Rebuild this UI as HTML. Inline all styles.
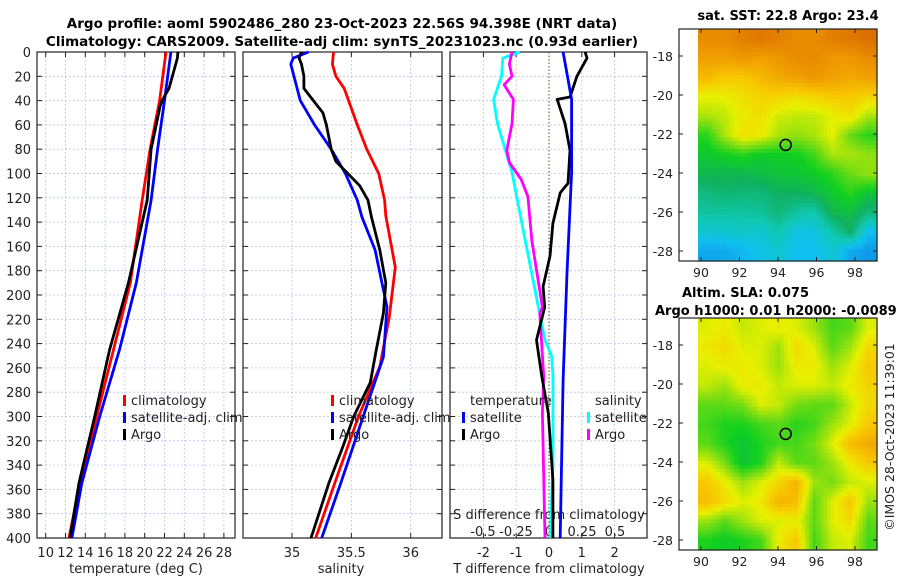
<!DOCTYPE html>
<html><head><meta charset="utf-8">
<style>
body{margin:0;background:#fff;}
svg text{font-family:"DejaVu Sans","Liberation Sans",sans-serif;fill:#222;}
.b{font-weight:bold;fill:#000;}
</style></head>
<body>
<svg id="fig" width="900" height="580" viewBox="0 0 900 580" xmlns="http://www.w3.org/2000/svg">
<text class="b" x="342" y="28" font-size="13.5" text-anchor="middle">Argo profile: aoml 5902486_280 23-Oct-2023 22.56S 94.398E (NRT data)</text>
<text class="b" x="342" y="46" font-size="13.5" text-anchor="middle">Climatology: CARS2009. Satellite-adj clim: synTS_20231023.nc (0.93d earlier)</text>
<text class="b" x="788" y="20" font-size="13" text-anchor="middle">sat. SST: 22.8 Argo: 23.4</text>
<text class="b" x="682" y="297" font-size="13">Altim. SLA: 0.075</text>
<text class="b" x="655" y="315" font-size="13">Argo h1000: 0.01 h2000: -0.0089</text>
<text x="0" y="0" font-size="12.5" text-anchor="middle" transform="translate(894,437) rotate(-90)">©IMOS 28-Oct-2023 11:39:01</text>
<g id="g"></g>
</svg>
<script>
// Temperature panel data
const climDepth=[0,40,80,122,190,245,300,355,400];
const climT=[22.15,21.5,20.55,19.75,18.55,16.85,15.15,13.45,12.35];
const satT=[22.65,22.0,21.3,20.65,19.15,17.45,15.45,13.65,12.65];
const argoTDepth=[0,5,30,40,45,80,122,190,245,300,355,400];
const argoT=[23.35,23.3,22.45,21.75,21.55,20.65,20.25,18.35,16.45,14.95,13.35,12.45];
const tTicks=[10,12,14,16,18,20,22,24,26,28];
// Salinity panel data
const climSDepth=[0,10,20,30,60,80,100,122,135,177,218,259,300,355,400];
const climS=[35.35,35.34,35.37,35.44,35.55,35.63,35.73,35.78,35.79,35.87,35.82,35.74,35.56,35.36,35.2];
const satSDepth=[0,5,10,40,60,80,100,122,136,163,210,251,300,355,400];
const satS=[35.14,35.01,34.99,35.07,35.19,35.33,35.45,35.55,35.59,35.7,35.8,35.77,35.6,35.41,35.25];
const argoSDepth=[0,5,10,20,30,40,50,60,80,90,100,110,122,136,163,190,215,245,272,300,327,355,400];
const argoS=[35.08,35.06,35.08,35.1,35.1,35.18,35.26,35.29,35.33,35.37,35.47,35.57,35.64,35.67,35.74,35.79,35.77,35.71,35.66,35.52,35.42,35.31,35.16];
const sTicks=[35,35.5,36];
// Difference panel data
const argoDTDepth=[0,5,20,37,39,59,81,108,116,141,168,193,210,237,267,297,352,400];
const argoDT=[1.1,1.16,0.85,0.64,0.25,0.49,0.64,0.58,0.34,0.12,0.03,-0.18,-0.13,-0.38,-0.22,-0.02,0.12,0.12];
const satDTDepth=[0,39,99,182,270,400];
const satDT=[0.43,0.69,0.69,0.55,0.43,0.34];
const satDSDepth=[0,5,20,39,59,99,155,210,237,250,267,338,400];
const satDS=[-0.22,-0.35,-0.36,-0.42,-0.39,-0.28,-0.18,-0.08,-0.03,0.02,0.03,0.03,0.01];
const argoDSDepth=[0,10,20,27,39,59,81,91,105,119,155,210,215,267,297,400];
const argoDS=[-0.28,-0.3,-0.28,-0.34,-0.27,-0.28,-0.32,-0.3,-0.21,-0.16,-0.13,-0.05,-0.07,-0.04,-0.05,-0.03];
const dTTicks=[-2,-1,0,1,2];
const dSTicks=[-0.5,-0.25,0,0.25,0.5];
const dSTickLabels=["-0.5","-0.25","0","0.25","0.5"];
const depthTicks=[0,20,40,60,80,100,120,140,160,180,200,220,240,260,280,300,320,340,360,380,400];
// Map data (colour level 0..1), rows north->south, cols west->east
const sstGrid=[
[.85,.85,.88,.9,.88,.85,.85,.88,.9,.92],
[.8,.8,.82,.8,.82,.85,.85,.82,.82,.85],
[.75,.72,.72,.75,.78,.8,.82,.8,.78,.8],
[.65,.65,.68,.7,.7,.68,.7,.72,.72,.7],
[.6,.62,.66,.68,.63,.62,.62,.65,.68,.6],
[.5,.6,.68,.66,.6,.58,.6,.65,.55,.5],
[.46,.48,.5,.47,.47,.48,.52,.6,.6,.58],
[.42,.42,.42,.43,.45,.45,.47,.5,.55,.58],
[.36,.38,.37,.37,.4,.4,.42,.46,.5,.45],
[.32,.32,.32,.33,.37,.32,.3,.42,.44,.37],
[.25,.25,.27,.25,.3,.22,.22,.3,.4,.2],
[.15,.15,.18,.22,.25,.2,.2,.25,.15,.12]];
const slaGrid=[
[.64,.66,.62,.64,.66,.64,.59,.52,.54,.64],
[.66,.69,.64,.64,.59,.69,.64,.54,.59,.69],
[.64,.66,.66,.64,.59,.66,.66,.59,.64,.72],
[.62,.59,.66,.66,.62,.64,.64,.62,.66,.7],
[.54,.54,.56,.64,.62,.56,.54,.54,.62,.69],
[.52,.49,.49,.52,.54,.5,.52,.59,.64,.72],
[.54,.49,.45,.49,.52,.52,.56,.64,.74,.78],
[.64,.56,.45,.49,.62,.54,.54,.59,.66,.72],
[.72,.66,.59,.64,.69,.76,.59,.56,.62,.64],
[.74,.69,.64,.66,.76,.74,.54,.64,.72,.59],
[.59,.54,.59,.64,.64,.66,.54,.64,.69,.54],
[.49,.47,.49,.52,.66,.72,.52,.62,.64,.52]];
const lonTicks=[90,92,94,96,98];
const latTicks=[-18,-20,-22,-24,-26,-28];
const argoLon=94.4, argoLat=-22.56;

const NS='http://www.w3.org/2000/svg';
const G=document.getElementById('g');
function mk(tag,attrs,parent){const e=document.createElementNS(NS,tag);for(const k in attrs)e.setAttribute(k,attrs[k]);(parent||G).appendChild(e);return e;}
const Y0=52,Y1=538;
const yD=d=>Y0+(d/400)*(Y1-Y0);

function panel(name){
  const g=mk('g',{});
  
  
  return g;
}
function frame(g,x0,x1,name){
  depthTicks.forEach(d=>{
    const y=yD(d);
    if(d>0&&d<400)mk('line',{x1:x0,x2:x1,y1:y,y2:y,stroke:'#b8c4e8','stroke-width':0.8,'stroke-dasharray':'2,2'},g);
    mk('line',{x1:x0,x2:x0+5,y1:y,y2:y,stroke:'#222'},g);
    mk('line',{x1:x1-5,x2:x1,y1:y,y2:y,stroke:'#222'},g);
  });
  const r=mk('rect',{x:x0,y:Y0,width:x1-x0,height:Y1-Y0,fill:'none',stroke:'#222','stroke-width':1.2},g);
  
  
}
function vgrid(g,xs,color){xs.forEach(x=>{mk('line',{x1:x,x2:x,y1:Y0,y2:Y1,stroke:color||'#b8c4e8','stroke-width':0.8,'stroke-dasharray':'2,2'},g);
  mk('line',{x1:x,x2:x,y1:Y1-5,y2:Y1,stroke:'#222'},g);mk('line',{x1:x,x2:x,y1:Y0,y2:Y0+5,stroke:'#222'},g);});}
function line(g,depths,vals,xf,color,name){
  const pts=depths.map((d,i)=>xf(vals[i]).toFixed(1)+','+yD(d).toFixed(1)).join(' ');
  const p=mk('polyline',{points:pts,fill:'none',stroke:color,'stroke-width':2.8,'stroke-linejoin':'round'},g);
  
  
}
function txt(g,x,y,s,size,anchor,name){const t=mk('text',{x:x,y:y,'font-size':size,'text-anchor':anchor||'start'},g);t.textContent=s;
  
  
  return t;}
function legendRow(g,x,y,color,label,name){
  mk('rect',{x:x,y:y-10,width:3,height:11,fill:color},g);
  txt(g,x+8,y,label,13,'start',name);
}

// Panel 1 temperature
const xT=v=>45.7+(v-10)*9.9;
const p1=panel('temperature-panel');
vgrid(p1,tTicks.map(xT));
frame(p1,37,235,'temperature-axes');
depthTicks.forEach(d=>txt(p1,31,yD(d)+5,String(d),13,'end','depth-tick-label'));
tTicks.forEach(t=>txt(p1,xT(t),557,String(t),13,'middle','temperature-tick-label'));
txt(p1,136,573,'temperature (deg C)',13,'middle','temperature-axis-title');
line(p1,climDepth,climT,xT,'#ff0000','climatology-temperature-line');
line(p1,climDepth,satT,xT,'#0000ff','satellite-temperature-line');
line(p1,argoTDepth,argoT,xT,'#000000','argo-temperature-line');
legendRow(p1,123,405,'#ff0000','climatology','legend-climatology');
legendRow(p1,123,422,'#0000ff','satellite-adj. clim','legend-satellite');
legendRow(p1,123,439,'#000000','Argo','legend-argo');

// Panel 2 salinity
const xS=v=>292+(v-35)*118.7;
const p2=panel('salinity-panel');
vgrid(p2,sTicks.map(xS));
frame(p2,243,442,'salinity-axes');
sTicks.forEach(t=>txt(p2,xS(t),557,String(t),13,'middle','salinity-tick-label'));
txt(p2,341,573,'salinity',13,'middle','salinity-axis-title');
line(p2,climSDepth,climS,xS,'#ff0000','climatology-salinity-line');
line(p2,satSDepth,satS,xS,'#0000ff','satellite-salinity-line');
line(p2,argoSDepth,argoS,xS,'#000000','argo-salinity-line');
legendRow(p2,331,405,'#ff0000','climatology','legend-climatology-s');
legendRow(p2,331,422,'#0000ff','satellite-adj. clim','legend-satellite-s');
legendRow(p2,331,439,'#000000','Argo','legend-argo-s');

// Panel 3 differences
const xDT=v=>549+v*32.8;
const xDS=v=>549+v*132;
const p3=panel('difference-panel');
vgrid(p3,dTTicks.filter(t=>t!==0).map(xDT),'#d8c0b0');
frame(p3,450,647,'difference-axes');
mk('line',{x1:549,x2:549,y1:Y0,y2:Y1,stroke:'#3a5a2a','stroke-width':1,'stroke-dasharray':'1.5,2'},p3);
dTTicks.forEach(t=>txt(p3,xDT(t),557,String(t),13,'middle','t-diff-tick-label'));
txt(p3,549,573,'T difference from climatology',13,'middle','t-diff-axis-title');
dSTicks.forEach((t,i)=>txt(p3,xDS(t),536,dSTickLabels[i],13,'middle','s-diff-tick-label'));
txt(p3,549,519,'S difference from climatology',13,'middle','s-diff-axis-title');
line(p3,satDSDepth,satDS,xDS,'#00ffff','satellite-salinity-diff-line');
line(p3,argoDSDepth,argoDS,xDS,'#ff00ff','argo-salinity-diff-line');
line(p3,argoDTDepth,argoDT,xDT,'#000000','argo-temperature-diff-line');
line(p3,satDTDepth,satDT,xDT,'#0000ff','satellite-temperature-diff-line');
txt(p3,470,405,'temperature',13,'start','legend-temperature-header');
legendRow(p3,462,422,'#0000ff','satellite','legend-t-satellite');
legendRow(p3,462,439,'#000000','Argo','legend-t-argo');
txt(p3,595,405,'salinity',13,'start','legend-salinity-header');
legendRow(p3,587,422,'#00ffff','satellite','legend-s-satellite');
legendRow(p3,587,439,'#ff00ff','Argo','legend-s-argo');

// Maps
const cstops=[[0,[16,96,224]],[0.2,[16,192,240]],[0.3,[16,200,176]],[0.4,[16,176,96]],[0.48,[16,208,32]],[0.58,[144,224,16]],[0.65,[232,240,0]],[0.72,[248,200,0]],[0.8,[240,160,0]],[0.9,[224,120,0]],[1,[192,80,0]]];
function cmap(v){v=Math.max(0,Math.min(1,v));for(let i=1;i<cstops.length;i++){if(v<=cstops[i][0]){const a=cstops[i-1],b=cstops[i];const f=(v-a[0])/(b[0]-a[0]);
  const c=a[1].map((x,j)=>Math.round(x+(b[1][j]-x)*f));return 'rgb('+c.join(',')+')';}}return 'rgb(192,80,0)';}
function sample(grid,fr,fc){
  const nr=grid.length,nc=grid[0].length;
  const r=Math.max(0,Math.min(nr-1,fr)),c=Math.max(0,Math.min(nc-1,fc));
  const r0=Math.floor(r),c0=Math.floor(c),r1=Math.min(nr-1,r0+1),c1=Math.min(nc-1,c0+1);
  const a=r-r0,b=c-c0;
  return grid[r0][c0]*(1-a)*(1-b)+grid[r0][c1]*(1-a)*b+grid[r1][c0]*a*(1-b)+grid[r1][c1]*a*b;
}
function map(grid,top,lat20y,name){
  const g=mk('g',{});
  
  
  const lonX=l=>701+(l-90)*19.25;
  const latY=l=>lat20y+(-20-l)*19.5;
  const x0=698,x1=877,y0=top,y1=top+232;
  const nr=grid.length,nc=grid[0].length;
  const SUB=5, R=nr*SUB, C=nc*SUB;
  const cw=(x1-x0)/C,ch=(y1-y0)/R;
  for(let r=0;r<R;r++)for(let c=0;c<C;c++){
    const v=sample(grid,(r+0.5)/SUB-0.5,(c+0.5)/SUB-0.5);
    mk('rect',{x:(x0+c*cw).toFixed(2),y:(y0+r*ch).toFixed(2),width:(cw+0.6).toFixed(2),height:(ch+0.6).toFixed(2),fill:cmap(v)},g);
  }
  const fr=mk('rect',{x:679,y:y0,width:198,height:y1-y0,fill:'none',stroke:'#222','stroke-width':1.2},g);
  
  
  lonTicks.forEach(l=>{const x=lonX(l);mk('line',{x1:x,x2:x,y1:y1-4,y2:y1,stroke:'#222'},g);mk('line',{x1:x,x2:x,y1:y0,y2:y0+4,stroke:'#222'},g);
    txt(g,x,y1+16,String(l),12.5,'middle','longitude-tick-label');});
  latTicks.forEach(l=>{const y=latY(l);mk('line',{x1:679,x2:683,y1:y,y2:y,stroke:'#222'},g);mk('line',{x1:873,x2:877,y1:y,y2:y,stroke:'#222'},g);
    txt(g,673,y+5,String(l),12.5,'end','latitude-tick-label');});
  const dot=mk('circle',{cx:lonX(argoLon),cy:latY(argoLat),r:5.5,fill:'none',stroke:'#000','stroke-width':1.5},g);
  
  
}
map(sstGrid,29,95,'sst-map');
map(slaGrid,318,384,'sla-map');
</script>
</body></html>
